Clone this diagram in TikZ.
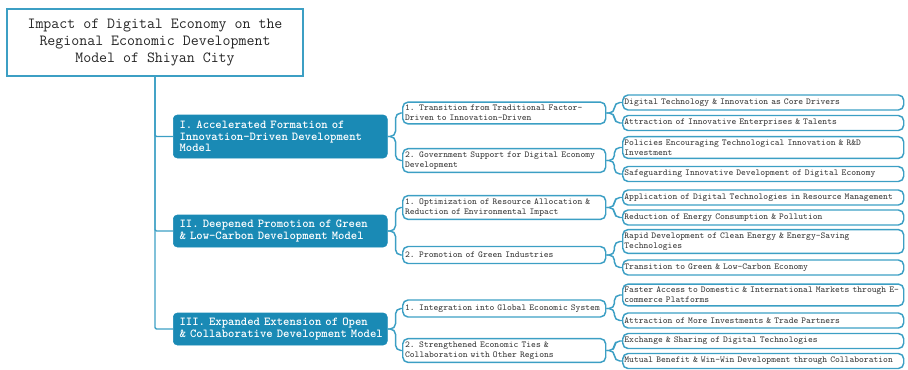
\documentclass[tikz,border=0pt]{standalone}
\usepackage{tikz}

\definecolor{mmline}{RGB}{60,159,196}
\definecolor{mmfill}{RGB}{26,138,181}
\definecolor{mmtext}{RGB}{56,56,56}

\tikzset{
  rootbox/.style={draw=mmline, line width=1.5pt, fill=white, text=black!85, align=center,
    font=\ttfamily\fontsize{11.6}{12.6}\selectfont, minimum width=222pt, minimum height=50.25pt, inner sep=0pt},
  secbox/.style={draw=mmfill, fill=mmfill, rounded corners=3pt, text=white, align=left, anchor=west,
    font=\ttfamily\bfseries\fontsize{9.1}{8.5}\selectfont, text width=151pt, inner xsep=4.75pt, minimum height=24pt},
  subbox/.style={draw=mmline, line width=1.1pt, rounded corners=4pt, text=mmtext, align=left, anchor=west,
    font=\ttfamily\fontsize{6.8}{7.5}\selectfont, text width=148.75pt, inner xsep=1.75pt, inner ysep=2.3pt, minimum height=12.75pt},
  leafbox/.style={draw=mmline, line width=1.1pt, rounded corners=4pt, text=mmtext, align=left, anchor=west,
    font=\ttfamily\fontsize{6.8}{7.5}\selectfont, text width=208.25pt, inner xsep=1.25pt, inner ysep=2.3pt, minimum height=11.25pt},
  link/.style={draw=mmline, line width=1.1pt, rounded corners=4pt},
}

\begin{document}
\begin{tikzpicture}[x=0.75pt,y=0.75pt,yscale=-1]
\useasboundingbox (0,0) rectangle (908,369);

%Root
\node[rootbox] (root) at (155,42.5) {Impact of Digital Economy on the\\Regional Economic Development\\Model of Shiyan City};

%Sections
\node[secbox, minimum height=32.25pt] (sone) at (173,136.5) {I. Accelerated Formation of\\Innovation-Driven Development\\Model};
\node[secbox] (stwo) at (173,231) {II. Deepened Promotion of Green\\\& Low-Carbon Development Model};
\node[secbox] (sthree) at (173,329) {III. Expanded Extension of Open\\\mbox{\& Collaborative Development Model}};

%Sub topics
\node[subbox] (sub11) at (402,113) {1. Transition from Traditional Factor-\\Driven to Innovation-Driven};
\node[subbox] (sub12) at (402,160.5) {2. Government Support for Digital Economy\\Development};
\node[subbox] (sub21) at (402,207.5) {1. Optimization of Resource Allocation \&\\Reduction of Environmental Impact};
\node[subbox] (sub22) at (402,255) {2. Promotion of Green Industries};
\node[subbox] (sub31) at (402,308.5) {\mbox{1. Integration into Global Economic System}};
\node[subbox] (sub32) at (402,350.5) {2. Strengthened Economic Ties \&\\Collaboration with Other Regions};

%Leaves
\node[leafbox] (leaf111) at (622,102.5) {Digital Technology \& Innovation as Core Drivers};
\node[leafbox] (leaf112) at (622,123) {Attraction of Innovative Enterprises \& Talents};
\node[leafbox] (leaf121) at (622,147.5) {Policies Encouraging Technological Innovation \& R\&D\\Investment};
\node[leafbox] (leaf122) at (622,174) {Safeguarding Innovative Development of Digital Economy};
\node[leafbox] (leaf211) at (622,197.5) {Application of Digital Technologies in Resource Management};
\node[leafbox] (leaf212) at (622,217.5) {Reduction of Energy Consumption \& Pollution};
\node[leafbox] (leaf221) at (622,241.5) {Rapid Development of Clean Energy \& Energy-Saving\\Technologies};
\node[leafbox] (leaf222) at (622,267.5) {Transition to Green \& Low-Carbon Economy};
\node[leafbox] (leaf311) at (622,295) {\mbox{Faster Access to Domestic \& International Markets through E-}\\commerce Platforms};
\node[leafbox] (leaf312) at (622,320.5) {Attraction of More Investments \& Trade Partners};
\node[leafbox] (leaf321) at (622,341) {Exchange \& Sharing of Digital Technologies};
\node[leafbox] (leaf322) at (622,361) {\mbox{Mutual Benefit \& Win-Win Development through Collaboration}};

%Trunk
\draw[link, rounded corners=1pt] (root.south) |- (sthree.west);
\draw[link, rounded corners=1pt] (root.south) |- (sone.west);
\draw[link, rounded corners=1pt] (root.south) |- (stwo.west);

%Section to sub topic
\draw[link] (sone.east) -- ++(8,0) |- (sub11.west);
\draw[link] (sone.east) -- ++(8,0) |- (sub12.west);
\draw[link] (stwo.east) -- ++(8,0) |- (sub21.west);
\draw[link] (stwo.east) -- ++(8,0) |- (sub22.west);
\draw[link] (sthree.east) -- ++(8,0) |- (sub31.west);
\draw[link] (sthree.east) -- ++(8,0) |- (sub32.west);

%Sub topic to leaf
\draw[link] (sub11.east) -- ++(8,0) |- (leaf111.west);
\draw[link] (sub11.east) -- ++(8,0) |- (leaf112.west);
\draw[link] (sub12.east) -- ++(8,0) |- (leaf121.west);
\draw[link] (sub12.east) -- ++(8,0) |- (leaf122.west);
\draw[link] (sub21.east) -- ++(8,0) |- (leaf211.west);
\draw[link] (sub21.east) -- ++(8,0) |- (leaf212.west);
\draw[link] (sub22.east) -- ++(8,0) |- (leaf221.west);
\draw[link] (sub22.east) -- ++(8,0) |- (leaf222.west);
\draw[link] (sub31.east) -- ++(8,0) |- (leaf311.west);
\draw[link] (sub31.east) -- ++(8,0) |- (leaf312.west);
\draw[link] (sub32.east) -- ++(8,0) |- (leaf321.west);
\draw[link] (sub32.east) -- ++(8,0) |- (leaf322.west);

\end{tikzpicture}
\end{document}
